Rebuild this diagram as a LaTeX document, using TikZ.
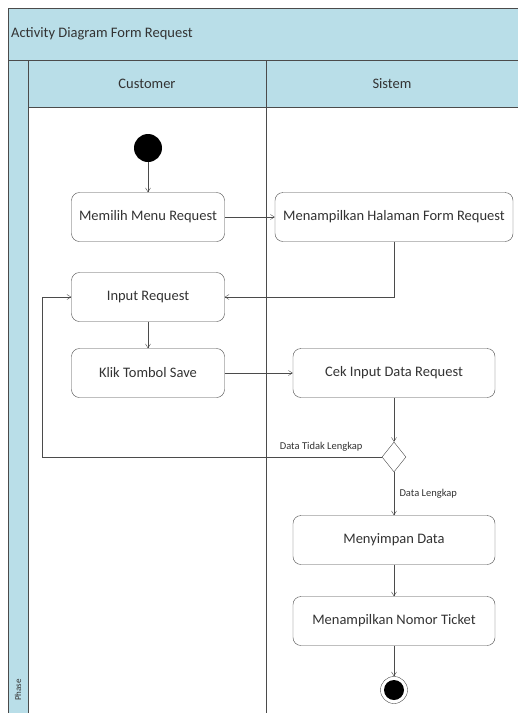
\documentclass[tikz,border=0pt]{standalone}
\usepackage{fontspec}
\setmainfont{Carlito}
\usetikzlibrary{arrows.meta,shapes.geometric}
\definecolor{lanefill}{RGB}{185,222,232}
\definecolor{lineclr}{RGB}{75,75,75}

\begin{document}
\begin{tikzpicture}
  [x=1pt,y=-1pt,every node/.style={font=\fontsize{14.5}{16}\selectfont,text=black!80},
   act/.style={draw=lineclr,fill=white,rounded corners=8pt,minimum height=49pt},
   flow/.style={draw=lineclr,-{Straight Barb[length=4pt,width=5pt]}},
   guard/.style={font=\fontsize{10.5}{12}\selectfont}]
  \useasboundingbox (0,0) rectangle (518,713);
  % swimlane frame
  \fill[lanefill] (8,8) rectangle (530,107);
  \fill[lanefill] (8,60) rectangle (28,730);
  \draw[lineclr] (8,730) -- (8,8) -- (530,8);
  \draw[lineclr] (8,60) -- (530,60);
  \draw[lineclr] (28,107) -- (530,107);
  \draw[lineclr] (28,60) -- (28,730);
  \draw[lineclr] (266,60) -- (266,730);
  \node[anchor=west,inner sep=1pt] (title) at (10,34) {Activity Diagram Form Request};
  \node (cust) at (147,84) {Customer};
  \node (sis) at (392,84) {Sistem};
  \node[rotate=90,font=\fontsize{9}{10}\selectfont] (phase) at (18,690) {Phase};

  \node[circle,fill=black,minimum size=28pt,inner sep=0] (start) at (148,148) {};
  \node[act,minimum width=153pt] (menu) at (148,217) {Memilih Menu Request};
  \node[act,minimum width=238pt] (halaman) at (394,217) {Menampilkan Halaman Form Request};
  \node[act,minimum width=153pt] (input) at (148,297) {Input Request};
  \node[act,minimum width=153pt] (save) at (148,373) {Klik Tombol Save};
  \node[act,minimum width=202pt] (cek) at (394,373) {Cek Input Data Request};
  \node[diamond,draw=lineclr,fill=white,minimum width=24pt,minimum height=30pt,inner sep=0] (dec) at (394,457) {};
  \node[act,minimum width=202pt] (simpan) at (394,540) {Menyimpan Data};
  \node[act,minimum width=202pt] (ticket) at (394,621) {Menampilkan Nomor Ticket};
  \node[circle,draw=lineclr,fill=white,minimum size=27pt,inner sep=0] (end) at (394,690) {};
  \fill[black] (end.center) circle (10pt);
  \coordinate (back) at (42,457);

  \foreach \from/\to in {start/menu,menu/halaman,input/save,save/cek,cek/dec,dec/simpan,simpan/ticket,ticket/end}
    \draw[flow] (\from) -- (\to);
  \draw[flow] (halaman) |- (input);
  \draw[flow] (dec) -- (back) |- (input);
  \node[guard,anchor=south east] (tidak) at (366,455) {Data Tidak Lengkap};
  \node[guard,anchor=west] (lengkap) at (396,494) {Data Lengkap};
\end{tikzpicture}
\end{document}
